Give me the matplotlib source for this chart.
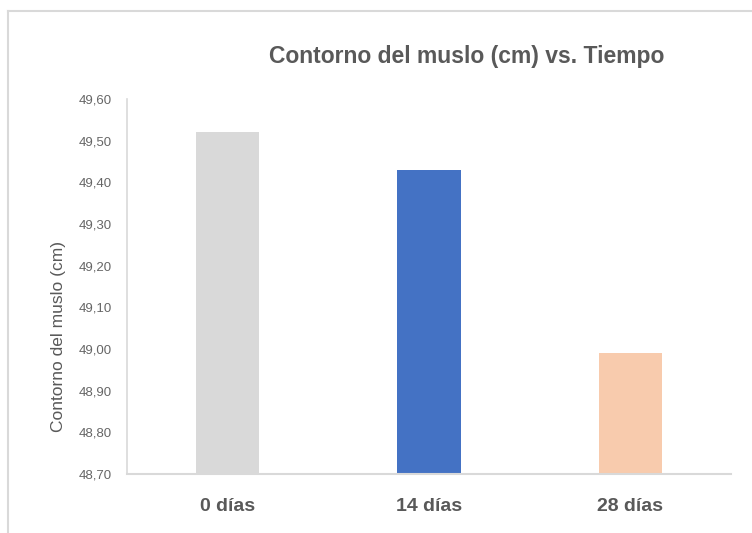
import matplotlib
matplotlib.use("Agg")
import matplotlib.pyplot as plt
from matplotlib.ticker import FuncFormatter
from matplotlib.lines import Line2D

# datos
categorias = ["0 días", "14 días", "28 días"]
contorno = [49.52, 49.43, 48.99]
colores = ["#D9D9D9", "#4472C4", "#F8CBAD"]
yticks = [48.70, 48.80, 48.90, 49.00, 49.10, 49.20, 49.30, 49.40, 49.50, 49.60]

plt.rcParams['font.family'] = ['Liberation Sans Narrow', 'Liberation Sans', 'DejaVu Sans']

fig = plt.figure(figsize=(7.52, 5.33), dpi=100)
ax = fig.add_axes([127 / 752, 1 - 474 / 533, 604 / 752, 375 / 533])

# marco del grafico (recortado a la derecha y abajo)
fig.add_artist(Line2D([8 / 752, 1], [1 - 11 / 533] * 2, color="#D9D9D9", lw=1.5, transform=fig.transFigure))
fig.add_artist(Line2D([8 / 752] * 2, [0, 1 - 11 / 533], color="#D9D9D9", lw=1.5, transform=fig.transFigure))

x = range(len(categorias))
ax.bar(x, contorno, width=0.315, color=colores, zorder=2)

ax.set_xlim(-0.5, 2.5)
ax.set_ylim(48.70, 49.60)
ax.set_yticks(yticks)
ax.yaxis.set_major_formatter(FuncFormatter(lambda v, p: f"{v:.2f}".replace(".", ",")))
ax.set_xticks(list(x))
ax.set_xticklabels(categorias, fontsize=14, fontweight="bold", color="#595959")
ax.tick_params(axis="y", labelsize=9.5, colors="#666666", length=0, pad=11)
ax.tick_params(axis="x", length=0, pad=17)

for s in ["top", "right"]:
    ax.spines[s].set_visible(False)
ax.spines["left"].set_color("#D9D9D9")
ax.spines["bottom"].set_color("#D9D9D9")
ax.spines["left"].set_linewidth(1.2)
ax.spines["bottom"].set_linewidth(1.5)

# etiqueta del eje y (mas abajo que el centro del eje, como en el original)
fig.text(58 / 752, 1 - 336 / 533, "Contorno del muslo (cm)", fontsize=12.5, color="#595959",
         rotation=90, ha="center", va="center")

fig.text(467 / 752, 1 - 56 / 533, "Contorno del muslo (cm) vs. Tiempo", fontsize=16.5,
         fontweight="bold", color="#595959", ha="center", va="center")

fig.savefig("out.png", dpi=100)
